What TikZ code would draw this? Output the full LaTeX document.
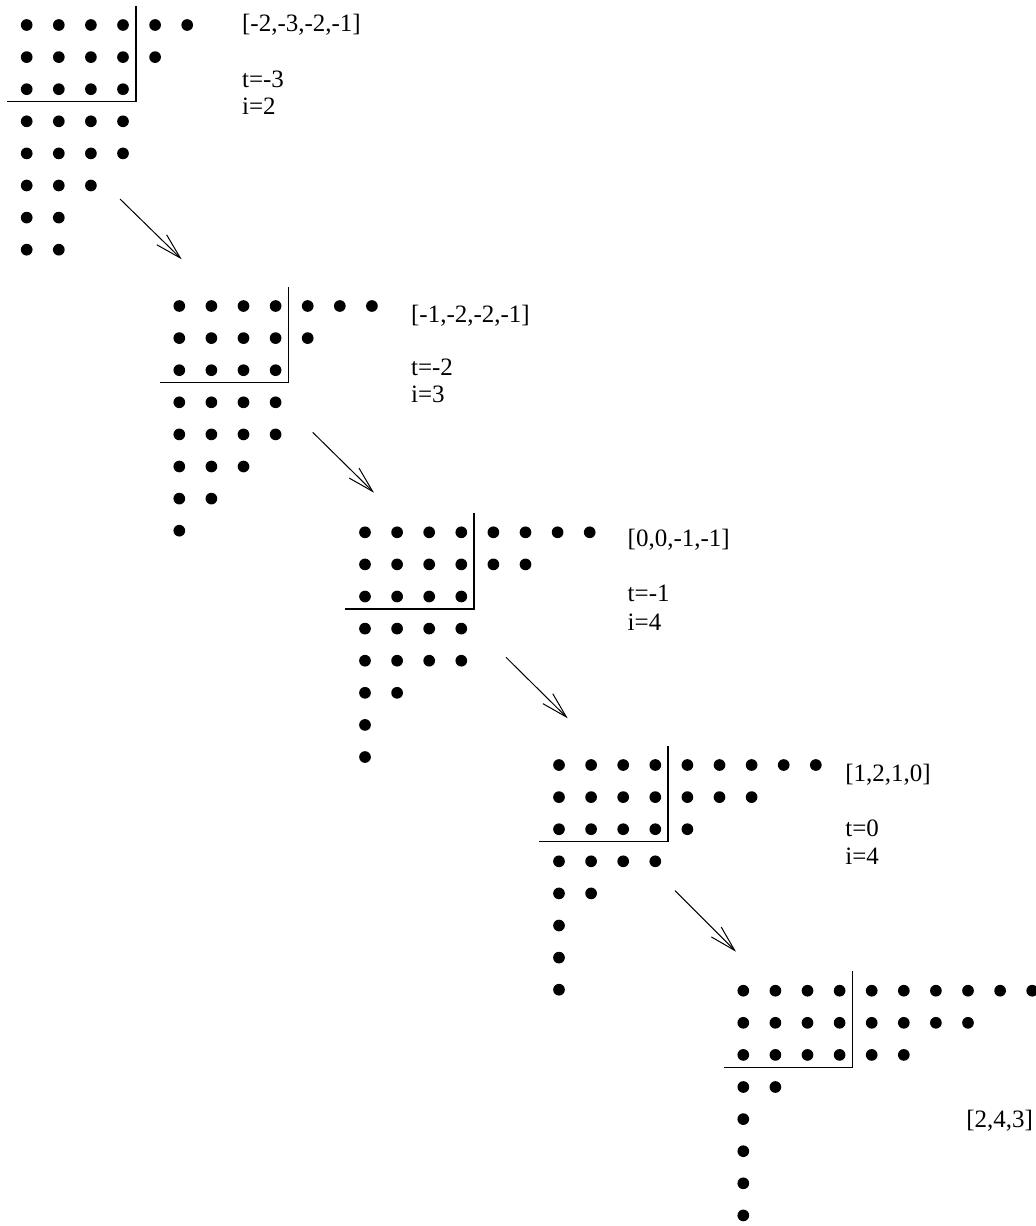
\documentclass[tikz,border=0pt]{standalone}
\usepackage{fontspec}
\setmainfont{Liberation Serif}
\usetikzlibrary{arrows.meta,positioning}

% one row of dots per entry of #2, named #1-row-col
\newcommand\dotrows[2]{%
  \foreach \len [count=\r from 0] in {#2} {
    \foreach \c in {1,...,\len}
      \node[dot] (#1-\r-\c) at (\c-1,\r) {};
  }}

\begin{document}
\begin{tikzpicture}[
  x=0.5pt, y=-0.5pt,
  dot/.style={circle, fill=black, inner sep=0pt, minimum size=5.85pt},
  frame/.style={line width=0.75pt},
  move/.style={line width=0.5pt, -{Straight Barb[length=13pt, width=7pt]}},
  txt/.style={inner sep=0pt, anchor=base west, font=\fontsize{12.5}{14}\selectfont},
  grid/.style={x=16.05pt, y=-16.05pt}
]
\useasboundingbox (0,0) rectangle (1036,1226);

% Diagram 1
\begin{scope}[shift={(26.7,25)}, grid]
  \dotrows{d1}{6,5,4,4,4,3,2,2}
  \draw[frame] (-0.61,2.39) -- (3.4,2.39) -- (3.4,-0.6);
\end{scope}
\node[txt] (d1-word) at (241.7,31.7) {[-2,-3,-2,-1]};
\node[txt] (d1-t) at (241.7,87.3) {t=-3};
\node[txt] (d1-i) at ([yshift=-13.8pt]d1-t.base west) {i=2};

% Diagram 2
\begin{scope}[shift={(179.3,306)}, grid]
  \dotrows{d2}{7,5,4,4,4,3,2,1}
  \draw[frame] (-0.61,2.39) -- (3.4,2.39) -- (3.4,-0.6);
\end{scope}
\node[txt] (d2-word) at (410.7,322.3) {[-1,-2,-2,-1]};
\node[txt] (d2-t) at (410.7,375) {t=-2};
\node[txt] (d2-i) at ([yshift=-13.8pt]d2-t.base west) {i=3};

% Diagram 3
\begin{scope}[shift={(365,532.3)}, grid]
  \dotrows{d3}{8,6,4,4,4,2,1,1}
  \draw[frame] (-0.61,2.39) -- (3.4,2.39) -- (3.4,-0.6);
\end{scope}
\node[txt] (d3-word) at (627.3,546.7) {[0,0,-1,-1]};
\node[txt] (d3-t) at (627.3,601.7) {t=-1};
\node[txt] (d3-i) at ([yshift=-14.2pt]d3-t.base west) {i=4};

% Diagram 4
\begin{scope}[shift={(559,765)}, grid]
  \dotrows{d4}{9,7,5,4,2,1,1,1}
  \draw[frame] (-0.61,2.39) -- (3.4,2.39) -- (3.4,-0.6);
\end{scope}
\node[txt] (d4-word) at (845,781) {[1,2,1,0]};
\node[txt] (d4-t) at (845,836.7) {t=0};
\node[txt] (d4-i) at ([yshift=-14.1pt]d4-t.base west) {i=4};

% Diagram 5
\begin{scope}[shift={(743.3,990.7)}, grid]
  \dotrows{d5}{10,8,6,2,1,1,1,1}
  \draw[frame] (-0.61,2.39) -- (3.4,2.39) -- (3.4,-0.6);
\end{scope}
\node[txt] (d5-word) at (966,1127.3) {[2,4,3]};

% arrows between the diagrams
\coordinate (a1-s) at (120,199);     \coordinate (a1-e) at (181.7,259.3);
\coordinate (a2-s) at (312.7,432.3); \coordinate (a2-e) at (374,492.7);
\coordinate (a3-s) at (506,657.3);   \coordinate (a3-e) at (567.7,718.3);
\coordinate (a4-s) at (675,890.7);   \coordinate (a4-e) at (736,951.7);

\draw[move] (a1-s) -- (a1-e);
\draw[move] (a2-s) -- (a2-e);
\draw[move] (a3-s) -- (a3-e);
\draw[move] (a4-s) -- (a4-e);
\end{tikzpicture}
\end{document}
